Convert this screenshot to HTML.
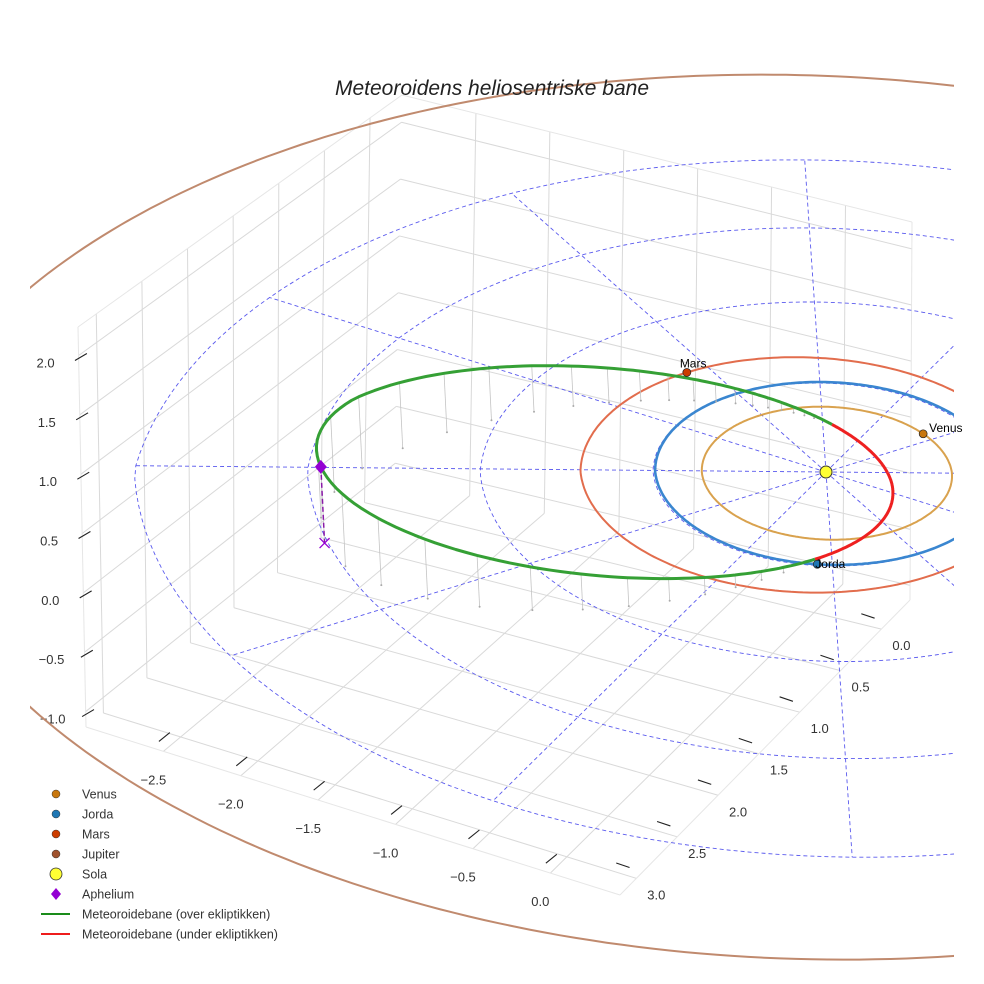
<!DOCTYPE html>
<html><head><meta charset="utf-8">
<style>
html,body{margin:0;padding:0;background:#fff;overflow:hidden;}
svg{display:block;font-family:"Liberation Sans",sans-serif;}
</style></head>
<body>
<svg id="chart" width="984" height="984" viewBox="0 0 984 984" xmlns="http://www.w3.org/2000/svg">
<defs><clipPath id="plotclip"><rect x="30" y="0" width="924" height="984"/></clipPath></defs>
<rect width="984" height="984" fill="#fff"/>
<g id="grid"></g>
<g id="ticks"></g>
<g id="orbits" clip-path="url(#plotclip)"></g>
<g id="labels"></g>
<text x="492" y="95" text-anchor="middle" font-size="21" font-style="italic" fill="#222">Meteoroidens heliosentriske bane</text>
<g id="legend"></g>
</svg>
<script>
// ---- data ----
const xTicks = [-2.5, -2.0, -1.5, -1.0, -0.5, 0.0];
const yTicks = [0.0, 0.5, 1.0, 1.5, 2.0, 2.5, 3.0];
const zTicks = [-1.0, -0.5, 0.0, 0.5, 1.0, 1.5, 2.0];
const xTickLabels = ["\u22122.5","\u22122.0","\u22121.5","\u22121.0","\u22120.5","0.0"];
const yTickLabels = ["0.0","0.5","1.0","1.5","2.0","2.5","3.0"];
const zTickLabels = ["\u22121.0","\u22120.5","0.0","0.5","1.0","1.5","2.0"];
const planetNames = ["Venus","Jorda","Mars","Jupiter"];
const planetA = [0.723, 1.0, 1.3, 5.203];
const planetE = [0.007, 0.017, 0.093, 0.048];
const planetPeri = [131, 103, 336, 14.7];
const planetAngle = [-66, 65, 204, 300];
const guideRadii = [1, 2, 3, 4];
const spokeAngles = [0,30,60,90,120,150,180,210,240,270,300,330];
const meteorA = [1.735];
const meteorE = [0.781];
const meteorInc = [13];
const meteorNode = [65];
const meteorPeri = [250];

const NS="http://www.w3.org/2000/svg";
function mk(tag, attrs, parent){const el=document.createElementNS(NS,tag);for(const k in attrs)el.setAttribute(k,attrs[k]);parent.appendChild(el);return el;}

// ---- box projection (trilinear between observed screen corners) ----
const xmin=-3.0,xmax=0.45,ymin=-0.35,ymax=3.2,zmin=-1.13,zmax=2.24;
const F={D:[395,478],C:[910,600],A:[86,727],B:[620,895]};
const T={D:[402,95],C:[912,222],A:[78,327],B:[615,497]};
function bil(Q,u,v){const p0=[Q.D[0]+(Q.C[0]-Q.D[0])*u,Q.D[1]+(Q.C[1]-Q.D[1])*u];const p1=[Q.A[0]+(Q.B[0]-Q.A[0])*u,Q.A[1]+(Q.B[1]-Q.A[1])*u];return [p0[0]+(p1[0]-p0[0])*v,p0[1]+(p1[1]-p0[1])*v];}
function boxP(x,y,z){const u=(x-xmin)/(xmax-xmin),v=(y-ymin)/(ymax-ymin),w=(z-zmin)/(zmax-zmin);const a=bil(F,u,v),b=bil(T,u,v);return [a[0]+(b[0]-a[0])*w,a[1]+(b[1]-a[1])*w];}

const grid=document.getElementById('grid');
function gl(p,q,name,col){const l=mk('line',{x1:p[0],y1:p[1],x2:q[0],y2:q[1],stroke:col||'#d9d9d9','stroke-width':1},grid);

}
xTicks.forEach(t=>{gl(boxP(t,ymin,zmin),boxP(t,ymax,zmin),'floor-gridline-x');gl(boxP(t,ymin,zmin),boxP(t,ymin,zmax),'back-gridline-x');});
yTicks.forEach(t=>{gl(boxP(xmin,t,zmin),boxP(xmax,t,zmin),'floor-gridline-y');gl(boxP(xmin,t,zmin),boxP(xmin,t,zmax),'wall-gridline-y');});
zTicks.forEach(t=>{gl(boxP(xmin,ymin,t),boxP(xmin,ymax,t),'wall-gridline-z');gl(boxP(xmin,ymin,t),boxP(xmax,ymin,t),'back-gridline-z');});
[[xmin,ymin,zmax,xmax,ymin,zmax],[xmin,ymin,zmax,xmin,ymax,zmax],[xmin,ymax,zmin,xmax,ymax,zmin],[xmax,ymax,zmin,xmax,ymin,zmin],[xmin,ymax,zmin,xmin,ymax,zmax],[xmax,ymin,zmin,xmax,ymin,zmax]].forEach(e=>gl(boxP(e[0],e[1],e[2]),boxP(e[3],e[4],e[5]),'box-edge','#e6e6e6'));

// ---- ticks ----
const tk=document.getElementById('ticks');
function tickMark(p,dx,dy,name){const l=mk('line',{x1:p[0]+dx*2,y1:p[1]+dy*2,x2:p[0]+dx*16,y2:p[1]+dy*16,stroke:'#222','stroke-width':1.1},tk);

}
function tickLabel(p,txt,name){const t=mk('text',{x:p[0],y:p[1],'text-anchor':'middle','font-size':13,fill:'#333'},tk);t.textContent=txt;

}
xTicks.forEach((t,i)=>{const p=boxP(t,ymax,zmin);tickMark([p[0]+8,p[1]-20],-0.78,0.63,'x-tick');tickLabel([p[0]-10,p[1]+33],xTickLabels[i],'x-tick-label');});
yTicks.forEach((t,i)=>{const p=boxP(xmax,t,zmin);tickMark([p[0]-22,p[1]-16],0.95,0.32,'y-tick');tickLabel([p[0]+20,p[1]+21],yTickLabels[i],'y-tick-label');});
zTicks.forEach((t,i)=>{const p=boxP(xmin,ymax,t);tickMark([p[0]+10,p[1]-3],-0.85,0.5,'z-tick');tickLabel([p[0]-33,p[1]+12],zTickLabels[i],'z-tick-label');});

// ---- orbit projection (affine + perspective) ----
const O=[826,472],EX=[153,48],EY=[-81,80],EZ=[-5.7,-116],K=0.05,KN=0.008;
function P(x,y,z){const dx=x*EX[0]+y*EY[0]+z*EZ[0],dy=x*EX[1]+y*EY[1]+z*EZ[1];const d=-(0.5*x+0.84*y);const f=d>0?1/(1+K*d):1/(1+KN*d);return [O[0]+dx*f,O[1]+dy*f];}
const og=document.getElementById('orbits');
const lb=document.getElementById('labels');
function poly(pts,attrs){return mk('path',Object.assign({d:'M'+pts.map(p=>p[0].toFixed(1)+','+p[1].toFixed(1)).join('L'),fill:'none'},attrs),og);}
const rad=Math.PI/180;

// guide circles and spokes
guideRadii.forEach(r=>{const pts=[];for(let a=0;a<=360;a+=2)pts.push(P(r*Math.cos(a*rad),r*Math.sin(a*rad),0));
const el=poly(pts,{stroke:'#5a5aee','stroke-width':0.9,'stroke-dasharray':'4,3'});

});
const rMax=guideRadii[guideRadii.length-1];
spokeAngles.forEach(a=>{const el=poly([P(0,0,0),P(rMax*Math.cos(a*rad),rMax*Math.sin(a*rad),0)],{stroke:'#5a5aee','stroke-width':0.9,'stroke-dasharray':'4,3'});

});

// planet orbits
const orbitColors=['#d9a24e','#3a86d0','#e26d4d','#c08a6e'];
const planetColors=['#c8770e','#1f77b4','#cc3d00','#a0522d'];
function orbR(i,th){const a=planetA[i],e=planetE[i];return a*(1-e*e)/(1+e*Math.cos((th-planetPeri[i])*rad));}
[3,2,1,0].forEach(i=>{const pts=[];for(let th=0;th<=360;th+=1){const r=orbR(i,th);pts.push(P(r*Math.cos(th*rad),r*Math.sin(th*rad),0));}
const el=poly(pts,{stroke:orbitColors[i],'stroke-width':i===1?2.6:2});

});

// meteoroid orbit
const mA=meteorA[0],mE=meteorE[0],inc=meteorInc[0]*rad,Om=meteorNode[0]*rad,om=meteorPeri[0]*rad;
function mPos(nu){const r=mA*(1-mE*mE)/(1+mE*Math.cos(nu));const u=om+nu;
return [r*(Math.cos(Om)*Math.cos(u)-Math.sin(Om)*Math.sin(u)*Math.cos(inc)),r*(Math.sin(Om)*Math.cos(u)+Math.cos(Om)*Math.sin(u)*Math.cos(inc)),r*Math.sin(u)*Math.sin(inc)];}
for(let n=0;n<360;n+=5){const q=mPos(n*rad);if(q[2]<=0.02)continue;const a=P(q[0],q[1],q[2]),b=P(q[0],q[1],0);
const l=mk('line',{x1:a[0],y1:a[1],x2:b[0],y2:b[1],stroke:'#c4c4c4','stroke-width':0.8},og);


const c=mk('circle',{cx:b[0],cy:b[1],r:1,fill:'#aaa'},og);

}
let seg=[],segUp=null;
function flush(){if(seg.length>1){const el=poly(seg,{stroke:segUp?'#35a035':'#ee2020','stroke-width':3,'stroke-linejoin':'round'});

}}
for(let n=0;n<=360;n+=1){const q=mPos(n*rad);const up=q[2]>=0;const p=P(q[0],q[1],q[2]);
if(segUp===null)segUp=up;if(up!==segUp){seg.push(p);flush();seg=[p];segUp=up;}else seg.push(p);}
flush();

// aphelion
const ap=mPos(Math.PI),apP=P(ap[0],ap[1],ap[2]),apG=P(ap[0],ap[1],0);
let el=mk('line',{x1:apP[0],y1:apP[1],x2:apG[0],y2:apG[1],stroke:'#8a1aa8','stroke-width':1.5,'stroke-dasharray':'5,3'},og);


el=mk('path',{d:`M${apG[0]-5},${apG[1]-5}L${apG[0]+5},${apG[1]+5}M${apG[0]-5},${apG[1]+5}L${apG[0]+5},${apG[1]-5}`,stroke:'#9400d3','stroke-width':1.3},og);


el=mk('path',{d:`M${apP[0]},${apP[1]-7}L${apP[0]+6},${apP[1]}L${apP[0]},${apP[1]+7}L${apP[0]-6},${apP[1]}Z`,fill:'#9400d3'},og);



// planets
const labelOff=[[6,-2,'start'],[-2,4,'start'],[-7,-5,'start'],[6,-2,'start']];
[0,1,2,3].forEach(i=>{const th=planetAngle[i];const r=orbR(i,th);const p=P(r*Math.cos(th*rad),r*Math.sin(th*rad),0);
const c=mk('circle',{cx:p[0],cy:p[1],r:4,fill:planetColors[i],stroke:'#222','stroke-width':0.7},og);


if(p[0]<30||p[0]>954||p[1]<0||p[1]>984)return;
const t=mk('text',{x:p[0]+labelOff[i][0],y:p[1]+labelOff[i][1],'font-size':12,fill:'#000','text-anchor':labelOff[i][2]},lb);t.textContent=planetNames[i];

});
const sp=P(0,0,0);
el=mk('circle',{cx:sp[0],cy:sp[1],r:6,fill:'#ffff33',stroke:'#333','stroke-width':1},og);



// legend
const lg=document.getElementById('legend');
const legendItems=[['Venus','dot','#c8770e'],['Jorda','dot','#1f77b4'],['Mars','dot','#cc3d00'],['Jupiter','dot','#a0522d'],['Sola','sun','#ffff33'],['Aphelium','dia','#9400d3'],['Meteoroidebane (over ekliptikken)','line','#1a8c1a'],['Meteoroidebane (under ekliptikken)','line','#ee1c1c']];
legendItems.forEach((it,i)=>{const y=794+i*20;const g=mk('g',{},lg);


if(it[1]==='dot')mk('circle',{cx:56,cy:y,r:4,fill:it[2],stroke:'#333','stroke-width':0.5},g);
else if(it[1]==='sun')mk('circle',{cx:56,cy:y,r:6,fill:it[2],stroke:'#333','stroke-width':0.8},g);
else if(it[1]==='dia')mk('path',{d:`M56,${y-6}L61,${y}L56,${y+6}L51,${y}Z`,fill:it[2]},g);
else mk('line',{x1:41,y1:y,x2:70,y2:y,stroke:it[2],'stroke-width':2},g);
const t=mk('text',{x:82,y:y+4.5,'font-size':12.5,fill:'#333'},g);t.textContent=it[0];});
</script>
</body></html>
